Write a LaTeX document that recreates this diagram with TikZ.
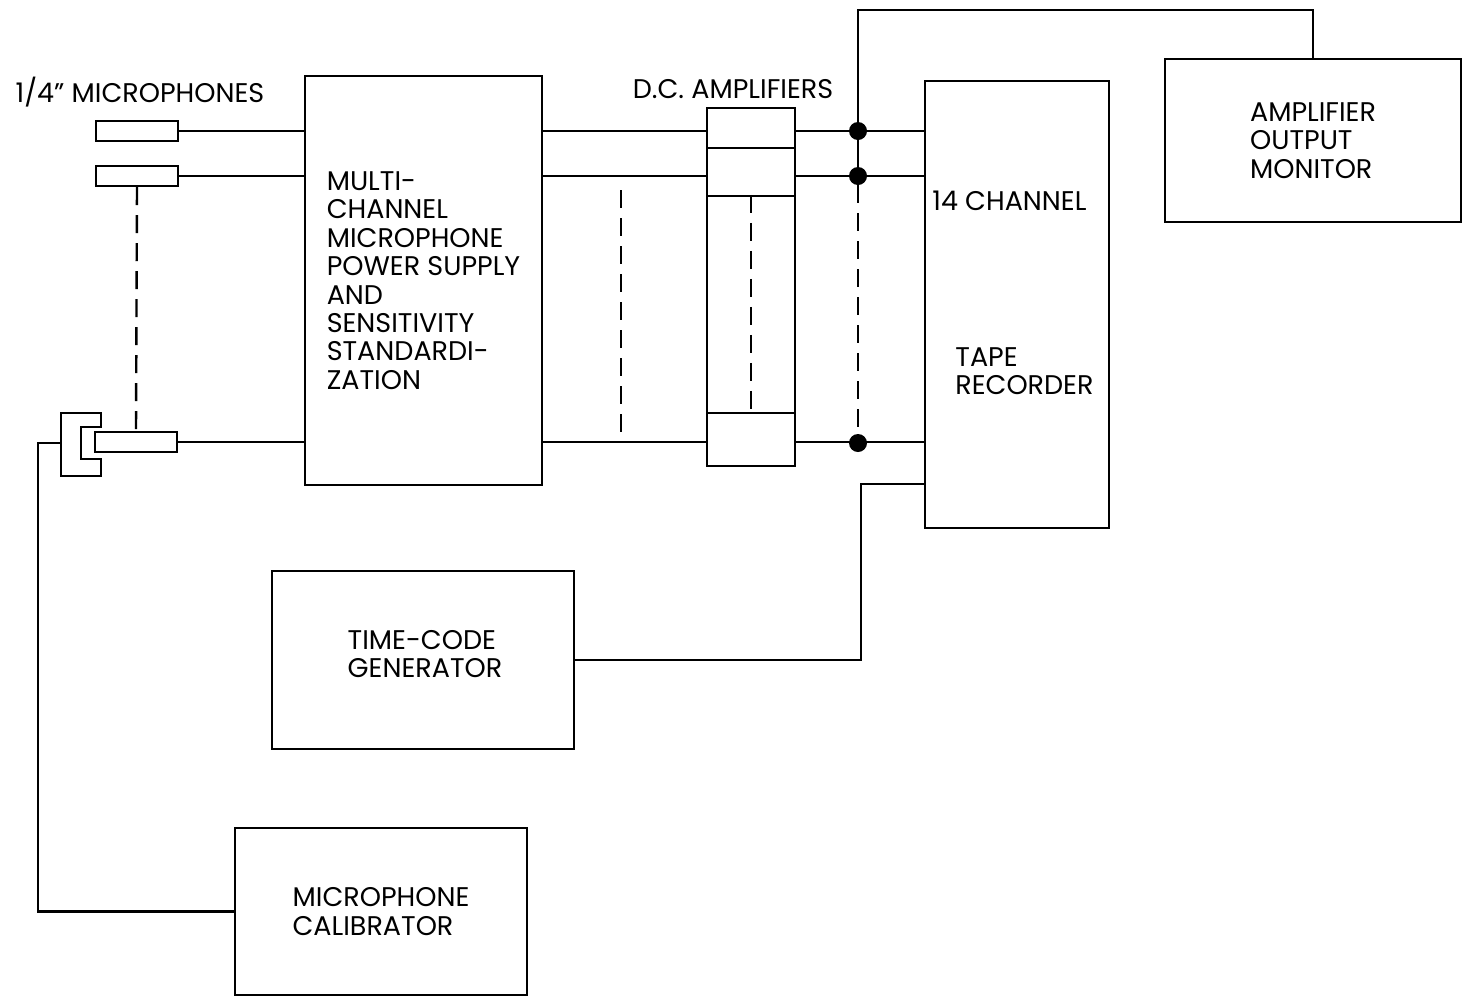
\documentclass[tikz,border=0pt]{standalone}
\usepackage{fontspec}
\setmainfont{Poppins}
\usetikzlibrary{positioning}

\begin{document}
\begin{tikzpicture}[
    x=0.5pt, y=-0.5pt,
    every node/.style={font=\fontsize{13.5}{14.2}\selectfont},
    box/.style={draw, line width=1.2pt, inner sep=0pt, align=left},
    mic/.style={draw, line width=1.2pt, minimum width=41pt, minimum height=10pt, inner sep=0pt},
    ampbox/.style={draw, line width=1.2pt, minimum width=44pt, inner sep=0pt},
    wire/.style={line width=1.2pt},
    bus/.style={line width=1.2pt, dash pattern=on 9pt off 5pt},
    junc/.style={circle, fill, minimum size=9pt, inner sep=0pt},
]
\useasboundingbox (0,0) rectangle (1462,1002);

% microphones and calibrator clamp
\node at (140,92) {1/4" MICROPHONES};
\node[mic] (mic1) at (137,131) {};
\node[mic] (mic2) at (137,176) {};
\node[mic] (mic3) at (136,442) {};
\draw[wire] (61,413) -- (101,413) -- (101,427) -- (81,427) -- (81,459)
    -- (101,459) -- (101,476) -- (61,476) -- cycle;
\coordinate (clampL) at (61,443);

% blocks
\node[box, minimum width=118.5pt, minimum height=204.5pt] (mps) at (423.5,280.5)
    {MULTI-\\CHANNEL\\MICROPHONE\\POWER SUPPLY\\AND\\SENSITIVITY\\STANDARDI-\\ZATION};
\node at (733,89) {D.C. AMPLIFIERS};
\node[ampbox, minimum height=20pt] (amp1) at (751,128) {};
\node[ampbox, minimum height=24pt] (amp2) at (751,172) {};
\node[ampbox, minimum height=108.5pt] (ampmid) at (751,304.5) {};
\node[ampbox, minimum height=26.5pt] (amp3) at (751,439.5) {};
\node[box, minimum width=92pt, minimum height=223.5pt] (rec) at (1017,304.5) {};
\node[anchor=west, inner sep=0pt] (reclab) at (932,201) {14 CHANNEL};
\node[anchor=west, inner sep=0pt, align=left] (reclab2) at (955,371) {TAPE\\RECORDER};
\node[box, minimum width=148pt, minimum height=81.5pt] (aom) at (1313,140.5)
    {AMPLIFIER\\OUTPUT\\MONITOR};
\node[box, minimum width=151pt, minimum height=89pt] (tcg) at (423,660) {};
\node[align=left] (tcglab) at (425,654) {TIME-CODE\\GENERATOR};
\node[box, minimum width=146pt, minimum height=83.5pt] (cal) at (381,911.5)
    {MICROPHONE\\CALIBRATOR};

% signal lines
\foreach \m in {mic1,mic2,mic3} {
    \draw[wire] (\m.east) -- (mps.west |- \m);
    \draw[wire] (mps.east |- \m) -- (amp1.west |- \m);
    \draw[wire] (amp1.east |- \m) -- (rec.west |- \m);
}
\draw[bus] (mic2.south) -- (mic3.north);
\coordinate (mpsbus) at (621,190);
\draw[bus] (mpsbus) -- (mpsbus |- mic3);
\draw[bus] (ampmid.north) -- (ampmid.south);

% junctions to the monitor
\node[junc] (j1) at (858,131) {};
\node[junc] (j2) at (858,176) {};
\node[junc] (j3) at (858,443) {};
\coordinate (top) at (858,10);
\draw[wire] (j2) -- (top) -| (aom.north);
\draw[bus] (j2) -- (j3);

% time code and calibrator
\coordinate (tcj) at (861,484);
\draw[wire] (tcg.east) -| (tcj) -- (rec.west |- tcj);
\draw[wire] (clampL) -- (38,443) |- (cal.west);
\end{tikzpicture}
\end{document}
